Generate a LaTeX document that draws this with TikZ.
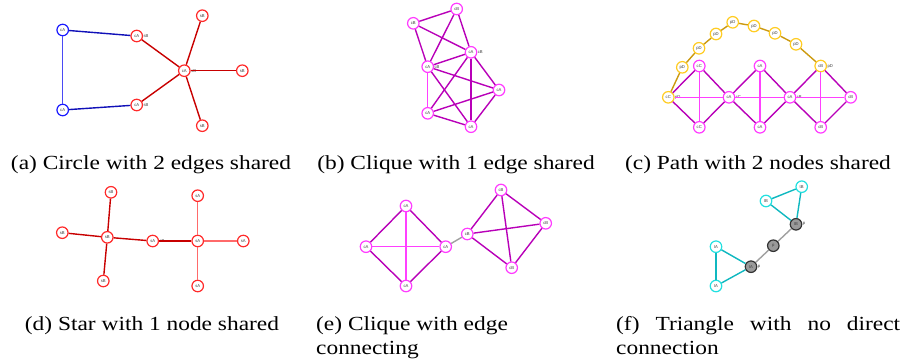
\documentclass[tikz,border=0pt]{standalone}
\usepackage{fontspec}
\setmainfont{Liberation Serif}[FakeStretch=1.17]
\newfontfamily\lblfont{Liberation Sans}
\definecolor{bluN}{HTML}{1A1AFF}
\definecolor{bluE}{HTML}{1010B8}
\definecolor{bluL}{HTML}{4A4AF5}
\definecolor{redN}{HTML}{FF2A2A}
\definecolor{redE}{HTML}{C80000}
\definecolor{redL}{HTML}{FF6A6A}
\definecolor{magN}{HTML}{FF3CFF}
\definecolor{magE}{HTML}{B800B8}
\definecolor{magL}{HTML}{FF40FF}
\definecolor{yelN}{HTML}{FFCC22}
\definecolor{yelE}{HTML}{CC9A10}
\definecolor{cyaN}{HTML}{22E0E0}
\definecolor{cyaE}{HTML}{10B8C0}
\definecolor{gryE}{HTML}{A0A0A0}
\definecolor{gryF}{HTML}{9A9A9A}
\begin{document}
\begin{tikzpicture}[x=1pt,y=-1pt,
  vtx/.style={circle, draw, fill=white, minimum size=11.5pt, inner sep=0pt, line width=1.2pt,
     font=\lblfont\fontsize{4.2}{5}\selectfont, text=black!75},
  gvtx/.style={vtx, fill=gryF, draw=black!80},
  lab/.style={label={[font=\lblfont\fontsize{4.2}{5}\selectfont, text=black!75, inner sep=0pt, label distance=0.3pt]east:#1}},
  edg/.style={line width=1.4pt},
  captxt/.style={font=\fontsize{20}{24}\selectfont, anchor=base, inner sep=0pt}]
\useasboundingbox (0,0) rectangle (908,364);

% ---------- (a) ----------
\node[vtx, draw=bluN] (a1) at (62.7,30) {cA};
\node[vtx, draw=bluN] (a2) at (62.7,110) {cA};
\node[vtx, draw=redN, lab=sB] (a3) at (136.7,36) {cA};
\node[vtx, draw=redN, lab=sB] (a4) at (136.7,105) {cA};
\node[vtx, draw=redN, lab=sB] (a5) at (184.3,70.7) {cA};
\node[vtx, draw=redN] (a6) at (202.3,15.7) {sB};
\node[vtx, draw=redN] (a7) at (242.3,70.7) {sB};
\node[vtx, draw=redN] (a8) at (202.3,125.7) {sB};
\draw[edg, bluE] (a1) -- (a3);
\draw[edg, bluL] (a1) -- (a2);
\draw[edg, bluE] (a2) -- (a4);
\foreach \t in {a3,a4,a6,a7,a8} \draw[edg, redE] (a5) -- (\t);

% ---------- (b) ----------
\node[vtx, draw=magN] (b1) at (456.7,9) {cB};
\node[vtx, draw=magN] (b2) at (413.3,23.3) {cB};
\node[vtx, draw=magN, lab=cB] (b3) at (471,52.3) {cA};
\node[vtx, draw=magN, lab=cB] (b4) at (427.7,66.7) {cA};
\node[vtx, draw=magN] (b5) at (499,90) {cA};
\node[vtx, draw=magN] (b6) at (427.7,113.3) {cA};
\node[vtx, draw=magN] (b7) at (471,126.7) {cA};
\foreach \s/\t in {b1/b2,b1/b3,b1/b4,b2/b3,b2/b4,b3/b4,b3/b5,b3/b6,b3/b7,b4/b5,b4/b7,b5/b6,b5/b7,b6/b7}
  \draw[edg, magE] (\s) -- (\t);
\draw[edg, magL] (b4) -- (b6);

% ---------- (c) ----------
\node[vtx, draw=yelN, lab=pD] (c1) at (668.3,97.3) {cC};
\node[vtx, draw=magN] (c2) at (699.3,66) {cC};
\node[vtx, draw=magN] (c3) at (699.3,127.3) {cC};
\node[vtx, draw=magN, lab=cC] (c4) at (729,97.3) {cA};
\node[vtx, draw=magN] (c5) at (760,66) {cA};
\node[vtx, draw=magN] (c6) at (760,127.3) {cA};
\node[vtx, draw=magN, lab=cB] (c7) at (790,97.3) {cA};
\node[vtx, draw=yelN, lab=pD] (c8) at (820.7,66) {cB};
\node[vtx, draw=magN] (c9) at (820.7,127.3) {cB};
\node[vtx, draw=magN] (c10) at (850.7,97.3) {cB};
\node[vtx, draw=yelN] (p1) at (682.3,67.3) {pD};
\node[vtx, draw=yelN] (p2) at (699,48.3) {pD};
\node[vtx, draw=yelN] (p3) at (716,34) {pD};
\node[vtx, draw=yelN] (p4) at (732.7,22.3) {pD};
\node[vtx, draw=yelN] (p5) at (754,26) {pD};
\node[vtx, draw=yelN] (p6) at (775,33.3) {pD};
\node[vtx, draw=yelN] (p7) at (796,44.3) {pD};
\foreach \s/\t in {c1/c2,c1/c3,c2/c4,c3/c4,c4/c5,c4/c6,c5/c7,c6/c7,c7/c8,c7/c9,c8/c10,c9/c10}
  \draw[edg, magE] (\s) -- (\t);
\foreach \s/\t in {c2/c3,c5/c6,c8/c9,c1/c4,c4/c7,c7/c10}
  \draw[edg, magL] (\s) -- (\t);
\foreach \s/\t in {c1/p1,p1/p2,p2/p3,p3/p4,p4/p5,p5/p6,p6/p7,p7/c8}
  \draw[edg, yelE] (\s) -- (\t);

% ---------- (d) ----------
\node[vtx, draw=redN] (d1) at (111,192.3) {sB};
\node[vtx, draw=redN] (d2) at (62.3,232.7) {sB};
\node[vtx, draw=redN] (d3) at (107.3,237.3) {sB};
\node[vtx, draw=redN] (d4) at (103.3,281) {sB};
\node[vtx, draw=redN, lab=sB] (d5) at (152.7,241) {sA};
\node[vtx, draw=redN] (d6) at (197.7,241) {sA};
\node[vtx, draw=redN] (d7) at (197.7,195.7) {sA};
\node[vtx, draw=redN] (d8) at (243.3,241) {sA};
\node[vtx, draw=redN] (d9) at (197.7,286) {sA};
\foreach \t in {d1,d2,d4,d5} \draw[edg, redE] (d3) -- (\t);
\draw[edg, redE] (d5) -- (d6);
\foreach \t in {d7,d8,d9} \draw[edg, redL] (d6) -- (\t);

% ---------- (e) ----------
\node[vtx, draw=magN] (e1) at (406,206) {cA};
\node[vtx, draw=magN] (e2) at (366,246.7) {cA};
\node[vtx, draw=magN] (e3) at (445.7,246.7) {cA};
\node[vtx, draw=magN] (e4) at (406,286) {cA};
\node[vtx, draw=magN] (f1) at (467.3,234) {cB};
\node[vtx, draw=magN] (f2) at (501,190) {cB};
\node[vtx, draw=magN] (f3) at (545.7,223.3) {cB};
\node[vtx, draw=magN] (f4) at (511.7,267.7) {cB};
\foreach \s/\t in {e1/e2,e1/e3,e2/e4,e3/e4,f1/f2,f2/f3,f3/f4,f4/f1,f1/f3,f2/f4}
  \draw[edg, magE] (\s) -- (\t);
\draw[edg, magL] (e1) -- (e4);
\draw[edg, magL] (e2) -- (e3);
\draw[edg, gryE] (e3) -- (f1);

% ---------- (f) ----------
\node[vtx, draw=cyaN] (g1) at (801.7,186.7) {tB};
\node[vtx, draw=cyaN] (g2) at (766,201) {tB};
\node[gvtx, lab=p] (g3) at (796,224.3) {tB};
\node[gvtx] (g4) at (773.3,245.7) {p};
\node[gvtx, lab=p] (g5) at (751,266.7) {tA};
\node[vtx, draw=cyaN] (g6) at (716,246.7) {tA};
\node[vtx, draw=cyaN] (g7) at (716,286) {tA};
\foreach \s/\t in {g1/g2,g1/g3,g2/g3,g6/g7,g6/g5,g7/g5}
  \draw[edg, cyaE] (\s) -- (\t);
\draw[edg, gryE] (g3) -- (g4);
\draw[edg, gryE] (g4) -- (g5);

% ---------- captions ----------
\node[captxt] (ca) at (151,169) {(a) Circle with 2 edges shared};
\node[captxt] (cb) at (456,169) {(b) Clique with 1 edge shared};
\node[captxt] (cc) at (758,169) {(c) Path with 2 nodes shared};
\node[captxt] (cd) at (152,330) {(d) Star with 1 node shared};
\node[captxt, anchor=base west] (ce1) at (316,330) {(e) Clique with edge};
\node[captxt, anchor=base west] (ce2) at (316,354) {connecting};
\node[captxt, anchor=base west] (cf1) at (616,330) {\makebox[284pt][s]{(f) Triangle with no direct}};
\node[captxt, anchor=base west] (cf2) at (616,354) {connection};
\end{tikzpicture}
\end{document}
